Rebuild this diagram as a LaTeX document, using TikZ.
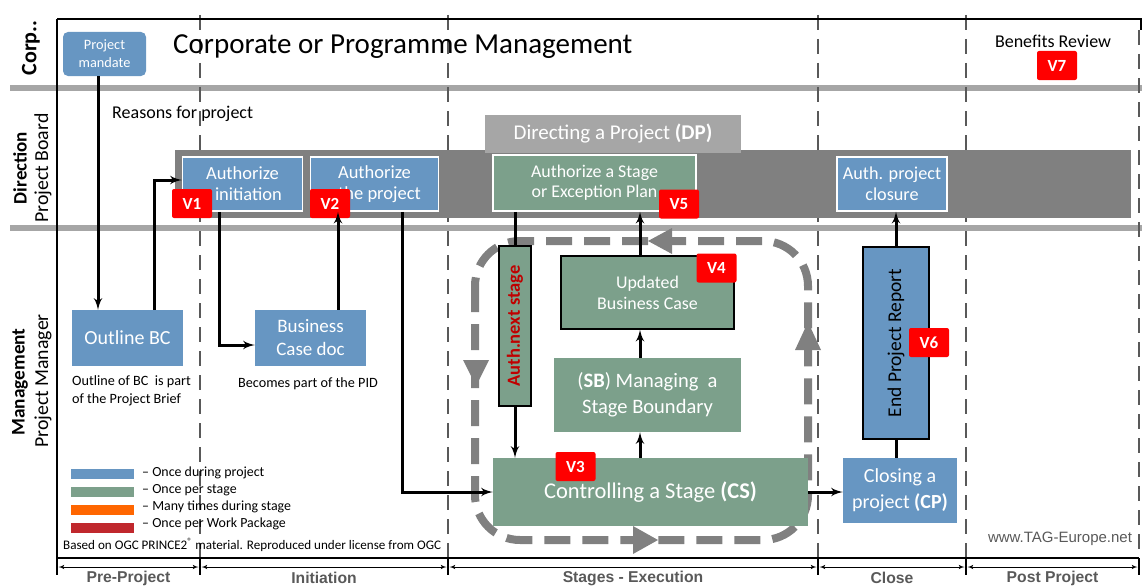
\documentclass[tikz,border=0pt]{standalone}
\usepackage{fontspec}
\setmainfont{Carlito}
\newfontfamily\arialfont{Liberation Sans}
\usepackage{tikz}
\usetikzlibrary{
  calc,
  arrows, % for latex' arrows
  positioning}
\definecolor{pblue}{RGB}{103,150,194}
\definecolor{pgreen}{RGB}{124,160,139}
\definecolor{porange}{RGB}{255,102,0}
\definecolor{pred}{RGB}{192,40,45}
\definecolor{vred}{RGB}{255,0,0}
\definecolor{nextred}{RGB}{192,0,0}
\definecolor{band}{RGB}{128,128,128}
\definecolor{lane}{RGB}{166,166,166}
\definecolor{phase}{RGB}{89,89,89}
\newcommand{\fsz}[2]{\fontsize{#1}{#2}\selectfont}
\tikzstyle{proj} = [fill=pblue, text=white, inner sep=0pt, align=center]
\tikzstyle{stage} = [fill=pgreen, text=white, inner sep=0pt, align=center]
\tikzstyle{framed} = [draw=white, line width=1.5pt]
\tikzstyle{edged} = [draw=black, line width=1.5pt]
\tikzstyle{vtag} = [fill=vred, text=white, font=\bfseries\fsz{17}{17}, minimum width=40, minimum height=29, inner sep=0pt, rounded corners=2pt]
\tikzstyle{flow} = [line width=3pt, ->]
\tikzstyle{lanesep} = [draw=lane, line width=6pt]
\tikzstyle{phasesep} = [draw=phase, line width=2.8pt, dash pattern=on 15pt off 9pt]
\tikzstyle{lanelbl} = [rotate=90, inner sep=0pt]
\tikzstyle{phaselbl} = [text=phase, font=\arialfont\bfseries\fsz{15.7}{15.7}, inner sep=0pt]
\tikzstyle{note} = [inner sep=0pt, align=left]

\begin{document}
\begin{tikzpicture}[ x=1pt, y=-1pt, >=latex' ]
\useasboundingbox (0,0) rectangle (1142,586);

% lanes and phases
\draw[lanesep] (10,88) -- (1142,88);
\draw[lanesep] (10,228) -- (1142,228);
\coordinate (p0) at (57,558);
\coordinate (p1) at (200,558);
\coordinate (p2) at (448,558);
\coordinate (p3) at (818,558);
\coordinate (p4) at (966,558);
\coordinate (p5) at (1139,558);
\foreach \p in {p1,p2,p3,p4} \draw[phasesep] (\p |- 0,15) -- (\p);
\draw[phasesep] (p5 |- 0,30) -- (p5);
\draw[line width=2.5pt] (57,19) -- (1141,19) -- (1141,30);
\draw[line width=2.5pt] (57,19) -- (p0) -- (p5);
\foreach \p in {p0,p1,p2,p3,p4,p5} \draw[line width=2pt] (\p) -- ++(0,17);
\foreach \a/\b in {p0/p1,p1/p2,p2/p3,p3/p4,p4/p5}
  \draw[<->, line width=1pt] ($(\a)+(1.5,9)$) -- ($(\b)+(-1.5,9)$);
\node[phaselbl] (ph1) at ($(p0)!0.5!(p1)+(0,20)$) {Pre-Project};
\node[phaselbl] (ph2) at ($(p1)!0.5!(p2)+(0,20)$) {Initiation};
\node[phaselbl] (ph3) at ($(p2)!0.5!(p3)+(0,20)$) {Stages - Execution};
\node[phaselbl] (ph4) at ($(p3)!0.5!(p4)+(0,20)$) {Close};
\node[phaselbl] (ph5) at ($(p4)!0.5!(p5)+(0,20)$) {Post Project};

\node[lanelbl, font=\bfseries\fsz{22}{22}] (corp) at (31,48) {Corp..};
\node[lanelbl, font=\bfseries\fsz{19}{19}] (dirA) at (20,168) {Direction};
\node[lanelbl, font=\fsz{19.8}{19.8}] (dirB) at (43,168) {Project Board};
\node[lanelbl, font=\bfseries\fsz{19.3}{19.3}] (mgtA) at (20,382) {Management};
\node[lanelbl, font=\fsz{19.8}{19.8}] (mgtB) at (43,381) {Project Manager};

% corporate lane
\node[proj, rounded corners=5pt, minimum width=83, minimum height=44, font=\fsz{14.3}{18}] (pMand) at (104.5,54) {Project\\mandate};
\node[anchor=west, inner sep=0pt, font=\fsz{29}{29}] (title) at (173,47) {Corporate or Programme Management};
\node[inner sep=0pt, font=\fsz{18}{18}] (benRev) at (1053,41) {Benefits Review};
\node[vtag] (v7) at (1057,65.5) {V7};

% direction lane
\node[anchor=west, inner sep=0pt, font=\fsz{18}{18}] (reasons) at (112,114) {Reasons for project};
\node[fill=band, minimum width=956, minimum height=68, inner sep=0pt] (dpBand) at (653,184) {};
\node[fill=lane, text=white, minimum width=256, minimum height=38, inner sep=0pt, font=\fsz{21}{21}] (dpLbl) at (613,134) {Directing a Project \textbf{(DP)}};
\node[proj, framed, minimum width=120, minimum height=54, font=\fsz{18.5}{21}] (aInit) at (242.5,184) {Authorize\\\hspace*{12pt}initiation};
\node[proj, framed, minimum width=128, minimum height=54, font=\fsz{18.5}{21}] (aProj) at (374.5,184) {Authorize\\\hspace*{10pt}the project};
\node[stage, framed, minimum width=203, minimum height=56, font=\fsz{17.9}{20}] (aStage) at (594.5,183) {Authorize a Stage\\or Exception Plan};
\node[proj, framed, minimum width=110, minimum height=54, font=\fsz{18.2}{21}] (aClose) at (892,184) {Auth. project\\closure};
\node[vtag] (v1) at (192,203.5) {V1};
\node[vtag] (v2) at (330,203.5) {V2};
\node[vtag] (v5) at (679,204) {V5};

% management lane
\node[proj, minimum width=111, minimum height=56, font=\fsz{20}{24}] (oBC) at (127.5,338) {Outline BC};
\node[note, anchor=north west, font=\fsz{14.2}{18.5}] (oBCnote) at (72,375) {Outline of BC~ is part\\of the Project Brief};
\node[proj, minimum width=111, minimum height=56, font=\fsz{19}{23}] (bCase) at (310.5,338) {Business\\Case doc};
\node[note, font=\fsz{14.2}{14.2}] (pidNote) at (308,384) {Becomes part of the PID};

\draw[band, line width=8pt, dash pattern=on 26pt off 12pt, rounded corners=45pt] (475,241) rectangle (808,540);
\fill[band] (463,360) -- (489,360) -- (476,386) -- cycle;
\fill[band] (633,526) -- (633,554) -- (658,540) -- cycle;
\fill[band] (795,350) -- (821,350) -- (808,322) -- cycle;
\fill[band] (672,228) -- (672,254) -- (648,241) -- cycle;

\node[stage, edged, minimum width=32, minimum height=160] (aNext) at (515,326) {};
\node[lanelbl, text=nextred, font=\bfseries\fsz{18.5}{18.5}] (aNextTxt) at (aNext) {Auth.next stage};
\node[stage, edged, minimum width=173, minimum height=73, font=\fsz{17.9}{21}] (uBC) at (647.5,292.5) {Updated\\Business Case};
\node[vtag] (v4) at (716.5,268) {V4};
\node[stage, minimum width=187, minimum height=74, font=\fsz{20.5}{26}] (mSB) at (647.5,395) {(\textbf{SB}) Managing~ a\\Stage Boundary};
\node[stage, minimum width=315, minimum height=68, font=\fsz{22.5}{22.5}] (cS) at (650.5,492) {Controlling a Stage \textbf{(CS)}};
\node[vtag] (v3) at (575.5,466.5) {V3};
\node[proj, edged, minimum width=66, minimum height=192] (ePR) at (896,343) {};
\node[lanelbl, font=\fsz{19.5}{19.5}] (ePRtxt) at (ePR) {End Project Report};
\node[vtag] (v6) at (929,342.5) {V6};
\node[proj, minimum width=114, minimum height=65, font=\fsz{20}{26}] (cP) at (900,490.5) {Closing a\\project \textbf{(CP)}};

% legend
\foreach \c/\t [count=\i] in {pblue/Once during project, pgreen/Once per stage, porange/Many times during stage, pred/Once per Work Package}
{
  \fill[\c] (71,{451+\i*18}) rectangle (134,{461+\i*18});
  \node[note, anchor=west, font=\fsz{13.9}{13.9}] (leg\i) at (142,{456+\i*17}) {\textendash\ \t};
}
\node[note, anchor=west, font=\fsz{13.1}{13.1}] (credit) at (63,545) {Based on OGC PRINCE2\textsuperscript{®} material. Reproduced under license from OGC};
\node[inner sep=0pt, text=phase, font=\arialfont\fsz{15}{15}] (web) at (1060,539) {www.TAG-Europe.net};

% flows
\coordinate (col) at (640,0);
\draw[flow] ([xshift=-6.5]pMand.south) -- ([xshift=-6.5]pMand.south |- oBC.north);
\draw[flow] ([xshift=26.5]oBC.north) |- ([yshift=4]aInit.west);
\draw[flow] ([xshift=-23.5]aInit.south) |- ([yshift=-7]bCase.west);
\draw[flow] ([xshift=27.5]bCase.north) -- ([xshift=27.5]bCase.north |- aProj.south);
\draw[flow] ([xshift=27.5]aProj.south) |- (cS.west);
\draw[line width=3pt] (aStage.south -| aNext.north) -- (aNext.north);
\draw[flow] (aNext.south) -- (aNext.south |- cS.north);
\draw[flow] (cS.north -| col) -- (mSB.south -| col);
\draw[flow] (mSB.north -| col) -- (uBC.south -| col);
\draw[flow] (uBC.north -| col) -- (aStage.south -| col);
\draw[flow] (cS.east) -- (cS.east -| cP.west);
\draw[line width=3pt] (cP.north -| ePR.south) -- (ePR.south);
\draw[flow] (ePR.north) -- (ePR.north |- aClose.south);

\end{tikzpicture}
\end{document}
